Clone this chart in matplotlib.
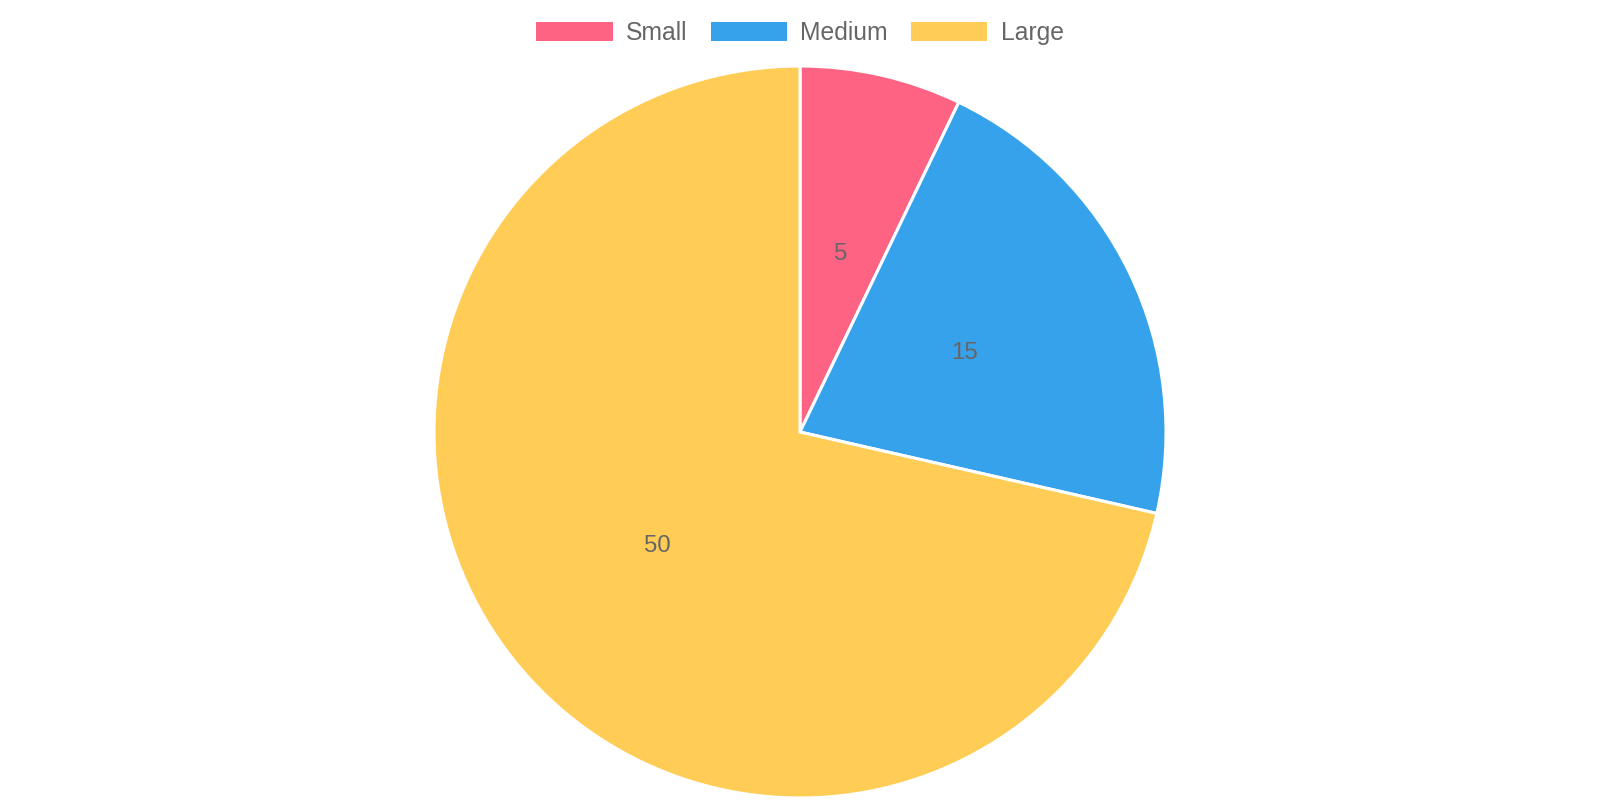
import matplotlib
matplotlib.use("Agg")
import matplotlib.pyplot as plt
from matplotlib.patches import Patch

plt.rcParams["font.family"] = ["Liberation Sans", "DejaVu Sans"]

labels = ["Small", "Medium", "Large"]
values = [5, 15, 50]
colors = ["#FF6384", "#36A2EB", "#FFCD56"]
TEXT = "#666666"
FS = 24 * 72 / 100      # 24 px data labels
FS_LEG = 24.8 * 72 / 100

fig = plt.figure(figsize=(16, 8), dpi=100)
ax = fig.add_axes([0, 0, 1, 1])

total = sum(values)
wedges, texts, autotexts = ax.pie(
    values, colors=colors, center=(800, 368), radius=366,
    startangle=90, counterclock=False,
    autopct=lambda p: f"{round(p * total / 100):d}", pctdistance=0.5,
    wedgeprops=dict(edgecolor="white", linewidth=2.2),
    textprops=dict(color=TEXT, fontsize=FS),
)
ax.set_aspect("auto")
ax.set_xlim(0, 1600)
ax.set_ylim(0, 800)
ax.axis("off")

handles = [Patch(facecolor=c, edgecolor="none") for c in colors]
fig.legend(handles, labels, loc="center", bbox_to_anchor=(0.5, 1 - 33 / 800),
           ncol=3, frameon=False, fontsize=FS_LEG, labelcolor=TEXT,
           handlelength=3.08, handleheight=0.82, handletextpad=0.54,
           columnspacing=0.93, borderaxespad=0, borderpad=0)

fig.savefig("out.png", dpi=100)
